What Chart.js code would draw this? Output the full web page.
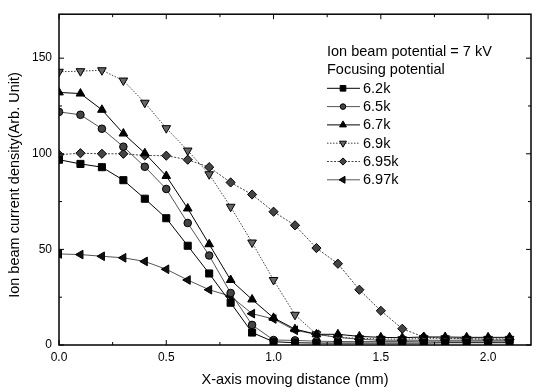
<!DOCTYPE html>
<html>
<head>
<meta charset="utf-8">
<script src="https://cdn.jsdelivr.net/npm/chart.js@4"></script>
<style>
  html, body { margin: 0; padding: 0; background: #fff; }
  #wrap { width: 537px; height: 392px; }
</style>
</head>
<body>
<div id="wrap"><canvas id="c" width="537" height="392"></canvas></div>
<script>
// ---- data ----
const distances = [0.0, 0.1, 0.2, 0.3, 0.4, 0.5, 0.6, 0.7, 0.8, 0.9, 1.0, 1.1, 1.2, 1.3, 1.4, 1.5, 1.6, 1.7, 1.8, 1.9, 2.0, 2.1];
const s62  = [96.9, 94.7, 93.0, 86.2, 76.5, 66.3, 51.9, 37.4, 22.1, 6.5, 1.7, 1.2, 1.0, 1.0, 1.0, 1.0, 1.0, 1.0, 1.2, 1.2, 1.2, 1.2];
const s65  = [121.9, 120.4, 113.1, 103.7, 93.2, 81.6, 63.8, 46.8, 27.2, 10.5, 2.6, 2.4, 2.0, 1.8, 1.8, 1.8, 1.8, 2.0, 2.0, 2.0, 2.0, 2.0];
const s67  = [132.1, 131.5, 123.0, 110.6, 100.3, 88.4, 71.4, 52.7, 34.0, 23.8, 14.2, 8.3, 5.6, 5.6, 4.5, 4.0, 3.8, 4.2, 4.2, 4.0, 4.0, 4.0];
const s69  = [142.9, 143.2, 143.7, 138.3, 126.7, 113.4, 101.7, 89.3, 72.3, 53.6, 34.0, 15.8, 5.6, 4.0, 3.5, 3.2, 3.0, 3.5, 3.5, 3.2, 3.2, 3.2];
const s695 = [99.5, 100.3, 100.0, 100.0, 99.1, 99.0, 96.9, 93.0, 85.0, 78.7, 69.7, 62.6, 50.7, 42.5, 28.9, 17.9, 8.5, 4.2, 3.6, 3.3, 3.0, 3.0];
const s697 = [47.6, 47.3, 46.4, 45.6, 43.7, 39.6, 34.0, 28.9, 25.5, 16.4, 13.6, 7.7, 5.6, 4.0, 3.0, 2.5, 2.5, 2.5, 2.5, 2.5, 2.5, 2.5];
const seriesLabels = ['6.2k', '6.5k', '6.7k', '6.9k', '6.95k', '6.97k'];
const legendTitle = ['Ion beam potential = 7 kV', 'Focusing potential'];
const xTitle = 'X-axis moving distance (mm)';
const yTitle = 'Ion beam current density(Arb. Unit)';
const xTickValues = [0, 0.5, 1.0, 1.5, 2.0];
const xTickLabels = ['0.0', '0.5', '1.0', '1.5', '2.0'];
const xMinorTicks = [0.25, 0.75, 1.25, 1.75];
const yTickValues = [0, 50, 100, 150];
const yTickLabels = ['0', '50', '100', '150'];
const yMinorTicks = [25, 75, 125];

const FONT = '"Liberation Sans", Arial, Helvetica, sans-serif';

function pts(arr) { return arr.map((v, i) => ({ x: distances[i], y: v })); }

const styles = [
  { color: '#000', dash: [], pointStyle: 'rect', rot: 0, fill: '#000', r: 5 },
  { color: '#555', dash: [], pointStyle: 'circle', rot: 0, fill: '#444', r: 3.8 },
  { color: '#000', dash: [], pointStyle: 'triangle', rot: 0, fill: '#000', r: 5 },
  { color: '#444', dash: [1.5, 1.5], pointStyle: 'triangle', rot: 180, fill: '#666', r: 5 },
  { color: '#444', dash: [2, 1.5], pointStyle: 'rectRot', rot: 0, fill: '#444', r: 4.6 },
  { color: '#555', dash: [], pointStyle: 'triangle', rot: -90, fill: '#111', r: 5 }
];
const seriesData = [s62, s65, s67, s69, s695, s697];

const datasets = seriesData.map((arr, i) => ({
  label: seriesLabels[i],
  data: pts(arr),
  borderColor: styles[i].color,
  borderWidth: 1,
  borderDash: styles[i].dash,
  pointStyle: styles[i].pointStyle,
  pointRotation: styles[i].rot,
  pointRadius: styles[i].r,
  pointBackgroundColor: styles[i].fill,
  pointBorderColor: '#000',
  pointBorderWidth: 1,
  tension: 0,
  fill: false
}));

const framePlugin = {
  id: 'frame',
  afterDatasetsDraw(chart) {
    const ctx = chart.ctx;
    const a = chart.chartArea;
    const xs = chart.scales.x, ys = chart.scales.y;
    ctx.save();
    ctx.strokeStyle = '#000';
    ctx.lineWidth = 1.5;
    ctx.setLineDash([]);
    ctx.strokeRect(a.left, a.top, a.right - a.left, a.bottom - a.top);
    ctx.lineWidth = 1;
    const tick = (x1, y1, x2, y2) => { ctx.beginPath(); ctx.moveTo(x1, y1); ctx.lineTo(x2, y2); ctx.stroke(); };
    xTickValues.forEach(v => { const px = xs.getPixelForValue(v); tick(px, a.bottom, px, a.bottom - 5); tick(px, a.top, px, a.top + 5); });
    xMinorTicks.forEach(v => { const px = xs.getPixelForValue(v); tick(px, a.bottom, px, a.bottom - 3); tick(px, a.top, px, a.top + 3); });
    yTickValues.forEach(v => { const py = ys.getPixelForValue(v); tick(a.left, py, a.left + 5, py); tick(a.right, py, a.right - 5, py); });
    yMinorTicks.forEach(v => { const py = ys.getPixelForValue(v); tick(a.left, py, a.left + 3, py); tick(a.right, py, a.right - 3, py); });

    // y axis title
    ctx.fillStyle = '#000';
    ctx.font = '14.5px ' + FONT;
    ctx.textBaseline = 'middle';
    ctx.textAlign = 'center';
    ctx.save();
    ctx.translate(15, 185);
    ctx.rotate(-Math.PI / 2);
    ctx.fillText(yTitle, 0, 0);
    ctx.restore();

    // legend
    const lx = 327, ly0 = 51.7, step = 18.3;
    ctx.textAlign = 'left';
    legendTitle.forEach((t, i) => ctx.fillText(t, lx, ly0 + i * step));
    chart.data.datasets.forEach((ds, i) => {
      const y = ly0 + (i + 2) * step;
      ctx.strokeStyle = ds.borderColor;
      ctx.lineWidth = 1;
      ctx.setLineDash(ds.borderDash);
      tick(lx, y, lx + 33, y);
      ctx.setLineDash([]);
      ctx.fillStyle = ds.pointBackgroundColor;
      ctx.strokeStyle = '#000';
      Chart.helpers.drawPoint(ctx, { pointStyle: ds.pointStyle, rotation: ds.pointRotation, radius: ds.pointRadius - 1, borderWidth: 1 }, lx + 16, y);
      ctx.fillStyle = '#000';
      ctx.fillText(ds.label, lx + 36, y + 0.5);
    });
    ctx.restore();
  }
};

new Chart(document.getElementById('c'), {
  type: 'line',
  data: { datasets },
  options: {
    responsive: false,
    animation: false,
    devicePixelRatio: 1,
    layout: { padding: { top: 6, right: 3, left: 0, bottom: 0 } },
    plugins: { legend: { display: false }, tooltip: { enabled: false } },
    scales: {
      x: {
        type: 'linear', min: 0, max: 2.2,
        grid: { display: false, drawTicks: false },
        border: { display: false },
        afterBuildTicks: s => { s.ticks = xTickValues.map(v => ({ value: v })); },
        afterFit: s => { s.height = 47; },
        ticks: { padding: 5, color: '#000', font: { family: FONT, size: 12 }, maxRotation: 0,
                 callback: (v) => xTickLabels[xTickValues.indexOf(v)] },
        title: { display: true, text: xTitle, color: '#000',
                 font: { family: FONT, size: 14.5 }, padding: { top: 0, bottom: 3.3 } }
      },
      y: {
        type: 'linear', min: 0, max: 173,
        grid: { display: false, drawTicks: false },
        border: { display: false },
        afterBuildTicks: s => { s.ticks = yTickValues.map(v => ({ value: v })); },
        afterFit: s => { s.width = 59; },
        ticks: { padding: 7, color: '#000', font: { family: FONT, size: 12 },
                 callback: (v) => yTickLabels[yTickValues.indexOf(v)] },
        title: { display: false }
      }
    }
  },
  plugins: [framePlugin]
});
</script>
</body>
</html>
